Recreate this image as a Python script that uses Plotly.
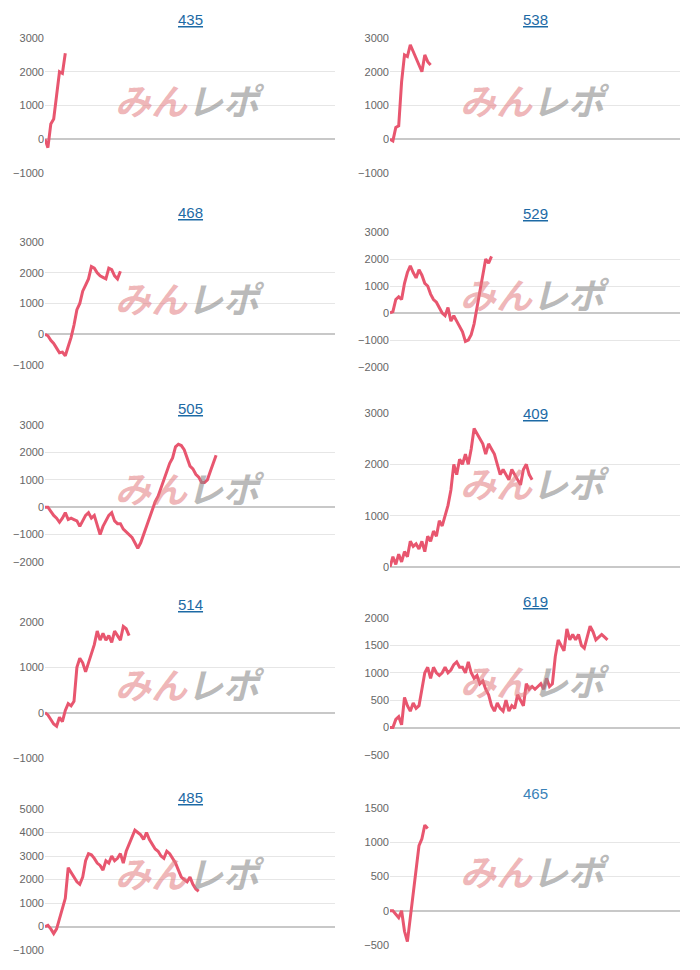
import plotly.graph_objects as go

titles = ["435", "538", "468", "529", "505", "409", "514", "619", "485", "465"]
s435 = [0, -250, 450, 600, 1300, 2000, 1950, 2550]
s538 = [0, -50, 350, 400, 1700, 2500, 2450, 2800, 2600, 2400, 2200, 2000, 2500, 2300, 2200]
s468 = [0, -50, -200, -300, -450, -600, -580, -700, -400, -100, 300, 800, 1000, 1400, 1600, 1800, 2200, 2150, 2000, 1900, 1850, 1800, 2150, 2100, 1900, 1800, 2050]
s529 = [0, 50, 500, 600, 500, 1100, 1500, 1750, 1500, 1300, 1600, 1400, 1100, 1000, 700, 500, 400, 200, 0, -100, 200, -300, -100, -300, -500, -700, -1050, -1000, -800, -400, 200, 800, 1500, 2000, 1850, 2100]
s505 = [0, 0, -150, -300, -400, -550, -400, -200, -450, -400, -450, -500, -700, -500, -300, -200, -400, -300, -650, -1000, -700, -500, -300, -200, -500, -600, -600, -800, -900, -1000, -1100, -1300, -1500, -1300, -1000, -700, -400, -100, 200, 400, 700, 1000, 1300, 1600, 1800, 2200, 2300, 2250, 2100, 1800, 1500, 1400, 1200, 1100, 900, 900, 1000, 1300, 1600, 1900]
s409 = [0, 200, 50, 250, 100, 300, 200, 500, 400, 450, 350, 500, 300, 600, 500, 700, 600, 900, 800, 1000, 1200, 1500, 2000, 1800, 2100, 2000, 2200, 2000, 2300, 2700, 2600, 2500, 2400, 2200, 2400, 2300, 2200, 2000, 1800, 1900, 1800, 1700, 1900, 1800, 1700, 1600, 1900, 2000, 1800, 1700]
s514 = [0, -50, -150, -250, -300, -100, -200, 50, 200, 150, 250, 1000, 1200, 1100, 900, 1100, 1300, 1500, 1800, 1600, 1750, 1600, 1700, 1550, 1800, 1700, 1600, 1900, 1850, 1700]
s619 = [0, 0, 150, 200, 50, 550, 400, 300, 450, 350, 400, 700, 1000, 1100, 900, 1100, 1000, 950, 1000, 1100, 1000, 1050, 1150, 1200, 1100, 1100, 1000, 1200, 1000, 900, 950, 800, 850, 700, 600, 400, 300, 450, 350, 300, 500, 300, 400, 350, 600, 500, 400, 800, 700, 750, 700, 750, 800, 700, 900, 750, 800, 1300, 1600, 1500, 1400, 1800, 1600, 1700, 1600, 1700, 1500, 1450, 1650, 1850, 1750, 1600, 1650, 1700, 1650, 1600]
s485 = [0, 50, -100, -300, -100, 300, 800, 1200, 2500, 2300, 2100, 1900, 1800, 2100, 2800, 3100, 3050, 2900, 2700, 2600, 2400, 2800, 2700, 3000, 2800, 2900, 3100, 2700, 3200, 3500, 3800, 4100, 4000, 3900, 3700, 4000, 3700, 3500, 3300, 3200, 3000, 2900, 3200, 3100, 2900, 2700, 2400, 2100, 2000, 1900, 2100, 1800, 1600, 1500]
s465 = [0, 0, -50, -100, 0, -300, -450, -100, 300, 600, 950, 1050, 1250, 1200]
series = [s435, s538, s468, s529, s505, s409, s514, s619, s485, s465]
yranges = [(-1000, 3000), (-1000, 3000), (-1000, 3000), (-2000, 3000), (-2000, 3000),
           (0, 3000), (-1000, 2000), (-500, 2000), (-1000, 5000), (-500, 1500)]
dticks = [1000, 1000, 1000, 1000, 1000, 1000, 1000, 500, 1000, 500]

W, H = 700, 970
OFF = 8  # page body margin compensation
boxes = [(38, 173, 20), (38, 173, 20), (242, 365, 212), (232, 367, 213), (425, 562, 408),
         (413, 567, 413), (622, 758, 604), (618, 755, 601), (809, 950, 797), (808, 945, 793)]
cols = [(45, 335), (390, 680)]

fig = go.Figure()
for i, (t, s) in enumerate(zip(titles, series)):
    c = (cols[i % 2][0] - OFF, cols[i % 2][1] - OFF)
    top, bot, tp = [v - OFF for v in boxes[i]]
    n = i + 1
    sfx = "" if n == 1 else str(n)
    xa, ya = "x" + sfx, "y" + sfx
    fig.add_trace(go.Scatter(x=list(range(len(s))), y=s, mode="lines",
                             line=dict(color="#e8566f", width=3), xaxis=xa, yaxis=ya,
                             showlegend=False, hoverinfo="skip"))
    fig.layout["xaxis" + sfx] = dict(domain=[c[0] / W, c[1] / W], range=[0, 100],
        showgrid=False, showticklabels=False, zeroline=False, anchor=ya, automargin=False)
    fig.layout["yaxis" + sfx] = dict(domain=[1 - bot / H, 1 - top / H],
        range=list(yranges[i]), dtick=dticks[i], showgrid=True, gridcolor="#e6e6e6",
        zeroline=True, zerolinecolor="#c8c8c8", zerolinewidth=1.5, anchor=xa, automargin=False,
        tickfont=dict(color="#666666", size=11, family="Arial"), ticks="", fixedrange=True)
    ttxt = f"<u>{t}</u>" if t != "465" else t
    tcol = "#1d6aa5" if t != "465" else "#3a82b8"
    fig.add_annotation(text=ttxt, x=0.5, y=(bot - tp) / (bot - top),
                       xref=xa + " domain", yref=ya + " domain", xanchor="center", yanchor="middle",
                       showarrow=False, font=dict(size=15, color=tcol, family="Arial"))
    fig.add_annotation(
        text="<b><i><span style='color:rgba(225,120,125,0.55)'>みん</span><span style='color:rgba(140,140,140,0.6)'>レポ</span></i></b>",
        x=0.5, y=0.55, xref=xa + " domain", yref=ya + " domain", xanchor="center", yanchor="middle",
        showarrow=False, font=dict(size=36, family="Noto Sans CJK JP"))

fig.update_layout(width=W, height=H, margin=dict(l=0, r=0, t=0, b=0),
                  plot_bgcolor="white", paper_bgcolor="white")
fig.write_html("out.html")
